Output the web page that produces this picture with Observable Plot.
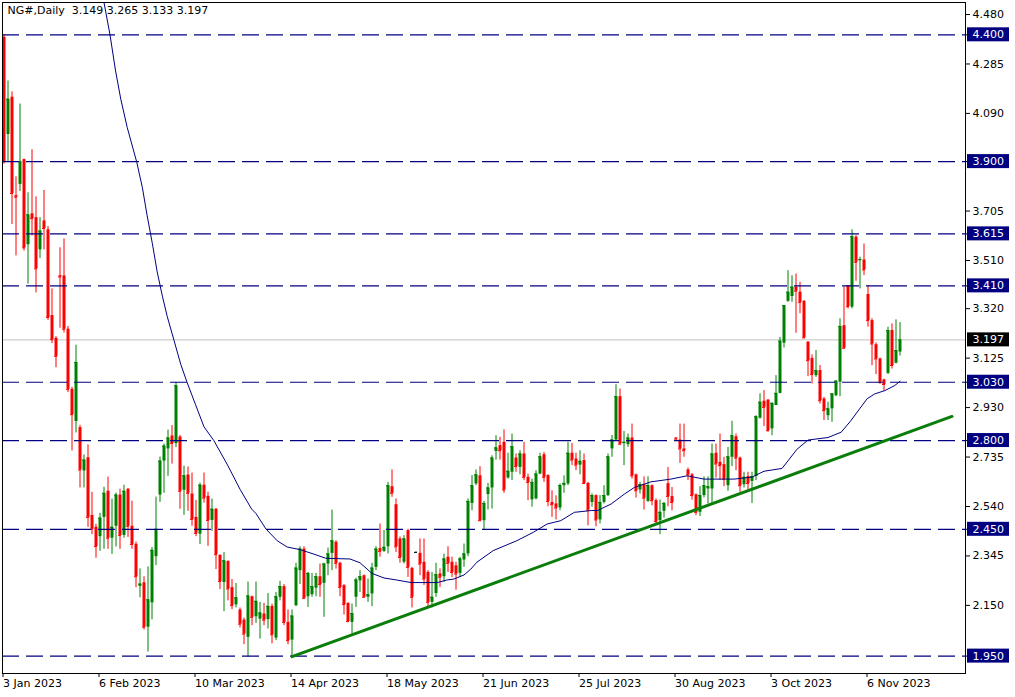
<!DOCTYPE html>
<html>
<head>
<meta charset="utf-8">
<script src="https://cdn.jsdelivr.net/npm/d3@7"></script>
<script src="https://cdn.jsdelivr.net/npm/@observablehq/plot@0.6"></script>
<style>
  html, body { margin: 0; padding: 0; background: #ffffff; }
  svg { display: block; }
</style>
</head>
<body>
<div id="chart"></div>
<script>
// ---- Data ----
const titleText = "NG#,Daily\u00a0\u00a03.149 3.265 3.133 3.197";

const opens = [4.39,4.007,4.154,3.766,3.81,3.908,3.572,3.694,3.679,3.552,3.666,3.631,3.293,3.203,3.45,3.449,3.239,3.002,2.875,2.851,
2.68,2.732,2.505,2.458,2.421,2.497,2.60,2.415,2.462,2.585,2.426,2.608,2.462,2.391,2.225,2.239,2.064,2.16,2.342,2.585,
2.719,2.767,2.818,2.788,2.814,2.604,2.664,2.589,2.497,2.431,2.624,2.58,2.485,2.529,2.347,2.24,2.323,2.22,2.152,2.132,
2.092,2.024,2.184,2.105,2.096,2.116,2.094,2.146,2.021,2.182,2.224,2.083,2.013,2.149,2.287,2.372,2.184,2.192,2.218,2.263,
2.237,2.313,2.355,2.399,2.316,2.228,2.158,2.083,2.182,2.247,2.267,2.182,2.195,2.30,2.374,2.363,2.381,2.618,2.547,2.412,
2.32,2.445,2.296,2.359,2.355,2.32,2.28,2.162,2.197,2.274,2.263,2.34,2.32,2.306,2.276,2.329,2.353,2.552,2.629,2.661,
2.484,2.587,2.613,2.757,2.78,2.793,2.652,2.675,2.731,2.694,2.747,2.655,2.566,2.57,2.668,2.744,2.662,2.556,2.55,2.534,
2.622,2.629,2.75,2.727,2.703,2.721,2.631,2.556,2.583,2.487,2.556,2.583,2.767,2.802,2.973,2.788,2.784,2.81,2.665,2.605,
2.626,2.56,2.622,2.563,2.484,2.521,2.63,2.579,2.81,2.802,2.767,2.684,2.665,2.586,2.517,2.583,2.609,2.609,2.75,2.714,
2.705,2.622,2.734,2.815,2.731,2.626,2.658,2.639,2.658,2.888,2.955,2.96,2.846,2.938,2.986,3.184,3.349,3.368,3.405,3.385,
3.349,3.188,3.124,3.056,3.076,2.964,2.898,2.925,2.977,3.03,3.253,3.411,3.326,3.602,3.51,3.512,3.376,3.273,3.178,3.122,
3.039,3.065,3.234,3.105,3.149];

const highs = [4.40,4.218,4.175,3.84,4.127,3.91,3.777,3.947,3.761,3.679,3.786,3.644,3.398,3.21,3.56,3.595,3.25,3.01,3.176,2.86,
2.743,2.783,2.596,2.47,2.513,2.616,2.656,2.569,2.593,2.608,2.624,2.611,2.561,2.40,2.294,2.263,2.302,2.378,2.577,2.735,
2.786,2.841,2.859,3.029,2.82,2.699,2.696,2.672,2.564,2.632,2.672,2.596,2.569,2.532,2.35,2.358,2.326,2.252,2.236,2.14,
2.10,2.242,2.187,2.242,2.162,2.158,2.197,2.155,2.201,2.245,2.232,2.132,2.132,2.316,2.381,2.381,2.28,2.276,2.276,2.313,
2.316,2.376,2.526,2.405,2.32,2.232,2.16,2.155,2.257,2.287,2.27,2.254,2.316,2.381,2.471,2.445,2.635,2.684,2.57,2.42,
2.425,2.45,2.30,2.361,2.412,2.412,2.287,2.28,2.316,2.294,2.352,2.381,2.34,2.32,2.34,2.392,2.57,2.662,2.684,2.697,
2.56,2.631,2.74,2.819,2.813,2.842,2.75,2.826,2.747,2.76,2.793,2.668,2.648,2.681,2.75,2.753,2.665,2.602,2.582,2.629,
2.661,2.793,2.789,2.75,2.76,2.747,2.635,2.59,2.586,2.583,2.622,2.747,2.82,3.02,3.003,2.836,2.826,2.865,2.668,2.635,
2.657,2.657,2.625,2.57,2.566,2.556,2.694,2.615,2.812,2.865,2.865,2.692,2.67,2.59,2.618,2.657,2.657,2.786,2.786,2.826,
2.734,2.773,2.876,2.826,2.735,2.675,2.675,2.675,2.898,2.984,2.997,2.96,2.947,3.056,3.207,3.332,3.47,3.45,3.457,3.424,
3.352,3.19,3.138,3.155,3.096,2.97,2.951,2.984,3.036,3.28,3.405,3.411,3.631,3.608,3.523,3.575,3.41,3.28,3.185,3.125,
3.042,3.247,3.26,3.276,3.265];

const lows = [3.89,3.90,3.652,3.528,3.782,3.547,3.417,3.607,3.382,3.518,3.552,3.274,3.182,3.087,3.243,3.224,2.989,2.759,2.83,2.613,
2.613,2.458,2.429,2.336,2.363,2.371,2.371,2.351,2.38,2.371,2.415,2.418,2.371,2.22,2.18,2.053,1.966,2.093,2.307,2.556,
2.592,2.659,2.707,2.772,2.529,2.505,2.521,2.462,2.421,2.39,2.553,2.383,2.442,2.291,2.212,2.125,2.168,2.133,2.14,2.061,
1.995,1.945,2.07,2.079,2.017,2.07,2.057,1.998,2.011,2.168,2.07,1.995,1.945,2.145,2.232,2.174,2.142,2.182,2.184,2.182,
2.103,2.267,2.287,2.293,2.184,2.112,2.083,2.037,2.142,2.201,2.179,2.162,2.145,2.287,2.34,2.359,2.353,2.576,2.359,2.316,
2.313,2.26,2.14,2.357,2.267,2.228,2.145,2.14,2.182,2.221,2.241,2.28,2.26,2.21,2.26,2.30,2.342,2.523,2.622,2.48,
2.447,2.526,2.53,2.723,2.723,2.592,2.648,2.642,2.675,2.665,2.642,2.563,2.537,2.566,2.665,2.635,2.539,2.497,2.487,2.523,
2.592,2.622,2.701,2.681,2.665,2.626,2.464,2.537,2.46,2.471,2.55,2.579,2.734,2.797,2.78,2.701,2.773,2.648,2.573,2.589,
2.526,2.556,2.543,2.468,2.429,2.494,2.539,2.523,2.80,2.71,2.734,2.642,2.565,2.504,2.50,2.574,2.55,2.55,2.652,2.644,
2.618,2.60,2.697,2.681,2.596,2.613,2.605,2.552,2.642,2.885,2.855,2.833,2.819,2.938,2.984,3.165,3.345,3.345,3.223,3.30,
3.201,3.052,3.023,3.049,2.944,2.879,2.879,2.872,2.973,2.973,3.161,3.319,3.319,3.428,3.398,3.451,3.247,3.095,3.06,3.021,
2.994,3.06,3.082,3.102,3.133];

const closes = [3.90,4.146,3.774,3.760,3.90,3.56,3.69,3.675,3.477,3.626,3.636,3.285,3.198,3.132,3.445,3.239,3.002,2.902,3.108,2.684,
2.723,2.497,2.45,2.382,2.494,2.592,2.415,2.458,2.585,2.426,2.60,2.462,2.39,2.263,2.234,2.064,2.172,2.367,2.45,2.719,
2.778,2.81,2.788,3.016,2.60,2.661,2.592,2.489,2.434,2.624,2.573,2.485,2.529,2.35,2.244,2.326,2.215,2.149,2.18,2.076,
2.037,2.187,2.103,2.166,2.12,2.092,2.146,2.034,2.184,2.224,2.083,2.011,2.108,2.297,2.372,2.178,2.276,2.224,2.263,2.232,
2.313,2.353,2.405,2.316,2.221,2.153,2.086,2.118,2.25,2.263,2.182,2.192,2.297,2.372,2.363,2.379,2.622,2.592,2.381,2.339,
2.412,2.30,2.182,2.359,2.313,2.254,2.162,2.182,2.271,2.261,2.333,2.316,2.28,2.274,2.333,2.353,2.56,2.622,2.665,2.484,
2.552,2.613,2.731,2.771,2.76,2.605,2.679,2.776,2.697,2.747,2.655,2.635,2.635,2.668,2.736,2.655,2.56,2.547,2.534,2.622,
2.631,2.75,2.723,2.703,2.718,2.631,2.526,2.583,2.487,2.556,2.583,2.736,2.802,2.973,2.786,2.793,2.81,2.661,2.602,2.626,
2.573,2.622,2.563,2.481,2.517,2.552,2.579,2.556,2.806,2.767,2.76,2.665,2.583,2.517,2.583,2.622,2.618,2.747,2.708,2.701,
2.648,2.736,2.819,2.731,2.622,2.655,2.631,2.658,2.894,2.951,2.931,2.839,2.947,2.986,3.192,3.332,3.385,3.405,3.389,3.345,
3.205,3.115,3.06,3.076,2.957,2.918,2.925,2.984,3.034,3.25,3.164,3.328,3.604,3.503,3.513,3.473,3.273,3.181,3.122,3.03,
3.021,3.234,3.096,3.155,3.197];

// moving average at these bar positions
const maIdx = [24.5,26.5,27.9,29.2,30.8,33.2,34.6,35.8,37.1,38.3,39.6,40.8,42.5,44.2,45.8,47.9,50,52.5,55.9,59,
61.9,63,65.5,68.3,70.8,74,77.5,80.4,84,86.5,89,92,95,98.2,101.8,108.3,110.7,112.5,115,116.7,
118.2,122.3,128.2,132.3,135.8,139.2,142.6,146.8,148.4,151.8,155.1,157.6,161.7,166.7,170.8,175,182.5,187,190,194.5,
196,198.2,201,206,209.3,211.6,213.9,215.8,217.7,220.2,222.7,224];
const maVal = [4.57,4.40,4.257,4.146,4.035,3.897,3.797,3.686,3.576,3.465,3.369,3.29,3.195,3.10,3.028,2.941,2.854,2.799,2.703,2.608,
2.53,2.512,2.451,2.405,2.38,2.37,2.352,2.336,2.334,2.333,2.318,2.276,2.258,2.25,2.24,2.24,2.25,2.254,2.27,2.293,
2.32,2.366,2.405,2.438,2.471,2.484,2.517,2.524,2.524,2.55,2.589,2.615,2.637,2.648,2.661,2.648,2.648,2.656,2.679,2.69,
2.72,2.765,2.802,2.812,2.833,2.876,2.925,2.965,2.984,2.997,3.017,3.034];

// support trend line (two anchor points)
const trendIdx = [72, 237];
const trendVal = [1.948, 2.895];

// horizontal levels
const levels = [4.400, 3.900, 3.615, 3.410, 3.030, 2.800, 2.450, 1.950];
const lastPrice = 3.197;

// price axis ticks
const yTicks = [4.480, 4.285, 4.090, 3.705, 3.510, 3.320, 3.125, 2.930, 2.735, 2.540, 2.345, 2.150];

// date axis
const xTickIdx = [0, 24, 48, 72, 96, 120, 144, 168, 192, 216];
const xTickLabels = ["3 Jan 2023","6 Feb 2023","10 Mar 2023","14 Apr 2023","18 May 2023","21 Jun 2023","25 Jul 2023","30 Aug 2023","3 Oct 2023","6 Nov 2023"];

// ---- Build ----
const candles = opens.map((o, i) => ({i, open: o, high: highs[i], low: lows[i], close: closes[i]}));
const ma = maIdx.map((x, k) => ({i: x, v: maVal[k]}));
const trend = trendIdx.map((x, k) => ({i: x, v: trendVal[k]}));
const col = d => d.close > d.open ? "#008000" : d.close < d.open ? "#ff0000" : "#000000";

const W = 1015, H = 697;
const mL = 2, mR = 50, mT = 2, mB = 24;
const xDomain = [-0.375, 240.375];
const yDomain = [1.8814, 4.5274];
const pxPerBar = (W - mL - mR) / (xDomain[1] - xDomain[0]);
const pxPerUnit = (H - mT - mB) / (yDomain[1] - yDomain[0]);
const xAt = px => xDomain[0] + (px - mL) / pxPerBar;   // pixel -> bar units
const halfBox = 7 / pxPerUnit;

const boxes = levels.map(v => ({v, fill: "#000080"})).concat([{v: lastPrice, fill: "#000000"}]);

const chart = Plot.plot({
  width: W, height: H,
  marginLeft: mL, marginRight: mR, marginTop: mT, marginBottom: mB,
  x: {type: "linear", domain: xDomain, axis: null, label: null},
  y: {type: "linear", domain: yDomain, axis: null, label: null},
  style: {fontFamily: "DejaVu Sans, Verdana, sans-serif", fontSize: "11px", background: "#ffffff", color: "#000000"},
  marks: [
    Plot.ruleY([lastPrice], {stroke: "#c0c0c0", strokeWidth: 1}),
    Plot.ruleX(candles, {x: "i", y1: "low", y2: "high", stroke: col, strokeWidth: 1}),
    Plot.ruleX(candles, {x: "i", y1: "open", y2: "close", stroke: col, strokeWidth: 3}),
    Plot.ruleY(candles, {y: "close", x1: d => d.i - 0.375, x2: d => d.i + 0.375, stroke: col, strokeWidth: 1}),
    Plot.ruleY(levels, {stroke: "#000080", strokeWidth: 1.2, strokeDasharray: "17,7"}),
    Plot.line(ma, {x: "i", y: "v", stroke: "#000080", strokeWidth: 1, clip: true}),
    Plot.line(trend, {x: "i", y: "v", stroke: "#0a7d0a", strokeWidth: 3, clip: true}),
    Plot.frame({stroke: "#000000", strokeWidth: 1}),
    Plot.axisY(yTicks.concat(levels), {anchor: "right", label: null, tickSize: 4, tickPadding: 3, textAnchor: "start",
      tickFormat: d => yTicks.includes(d) ? d.toFixed(3) : "", fontSize: 11, fill: "#000000"}),
    Plot.axisX(xTickIdx, {anchor: "bottom", label: null, tickSize: 4, tickPadding: 2, textAnchor: "start", dx: -1,
      tickFormat: d => xTickLabels[xTickIdx.indexOf(d)], fontSize: 11, fill: "#000000"}),
    Plot.rect(boxes, {x1: xAt(967), x2: xAt(1009), y1: d => d.v - halfBox, y2: d => d.v + halfBox, fill: "fill"}),
    Plot.text(boxes, {y: "v", text: d => d.v.toFixed(3), frameAnchor: "right", dx: 7, textAnchor: "start",
      fill: "#ffffff", fontSize: 11}),
    Plot.text([titleText], {frameAnchor: "top-left", dx: 5, dy: 4, textAnchor: "start", lineAnchor: "top",
      fill: "#000000", fontSize: 11})
  ]
});
document.getElementById("chart").appendChild(chart);
</script>
</body>
</html>
